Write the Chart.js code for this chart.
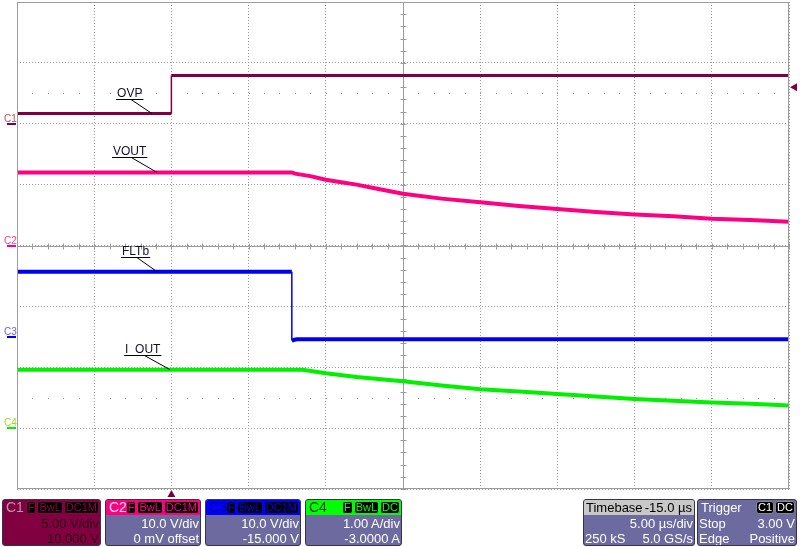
<!DOCTYPE html>
<html>
<head>
<meta charset="utf-8">
<title>OVP fault capture</title>
<script src="https://cdn.jsdelivr.net/npm/chart.js@4.4.1/dist/chart.umd.min.js"></script>
<style>
    html, body { margin: 0; padding: 0; background: #fff; overflow: hidden; }
    #wrap { position: relative; width: 800px; height: 547px; }
    #scope { position: absolute; left: 0; top: 0; }
    .box {
        position: absolute; top: 499px; height: 47px; box-sizing: border-box;
        border: 1px solid #34344e; border-radius: 3px; background: #6c6a9e;
        font-family: 'Liberation Sans', Arial, sans-serif; font-size: 13px; color: #fff;
        overflow: hidden;
    }
    .hdr { position: absolute; left: 0; right: 0; top: 0; height: 15px; }
    .name { position: absolute; left: 3px; top: 0; font-size: 14px; line-height: 15px; }
    .tags { position: absolute; right: 1px; top: 1px; display: flex; gap: 1px; }
    .tag {
        background: #000; border: 1px solid currentColor; border-radius: 3px;
        font-size: 11px; line-height: 11px; height: 11px; padding: 0 1px;
    }
    .row { position: absolute; left: 1px; right: 1px; height: 15px; line-height: 15px; }
    .r1 { top: 16px; }
    .r2 { top: 31px; }
    .l { position: absolute; left: 0; }
    .rt { position: absolute; right: 0; }
</style>
</head>
<body>
<div id="wrap">
    <canvas id="scope" width="800" height="547"></canvas>

    <div class="box" style="left:2px;width:99px;background:#800040;color:#2e0016;">
        <div class="hdr">
            <span class="name" style="color:#b897a8;">C1</span>
            <div class="tags" style="color:#900048;"><span class="tag">F</span><span class="tag">BwL</span><span class="tag">DC1M</span></div>
        </div>
        <div class="row r1"><span class="rt">5.00 V/div</span></div>
        <div class="row r2"><span class="rt">10.000 V</span></div>
    </div>

    <div class="box" style="left:105px;width:96px;">
        <div class="hdr" style="background:#ff0080;">
            <span class="name" style="color:#ffd8ea;">C2</span>
            <div class="tags" style="color:#ff0080;"><span class="tag">F</span><span class="tag">BwL</span><span class="tag">DC1M</span></div>
        </div>
        <div class="row r1"><span class="rt">10.0 V/div</span></div>
        <div class="row r2"><span class="rt">0 mV offset</span></div>
    </div>

    <div class="box" style="left:205px;width:96px;">
        <div class="hdr" style="background:#0000ff;">
            <span class="name" style="color:#000090;">C3</span>
            <div class="tags" style="color:#0000ff;"><span class="tag">F</span><span class="tag">BwL</span><span class="tag">DC1M</span></div>
        </div>
        <div class="row r1"><span class="rt">10.0 V/div</span></div>
        <div class="row r2"><span class="rt">-15.000 V</span></div>
    </div>

    <div class="box" style="left:305px;width:97px;">
        <div class="hdr" style="background:#00ff00;">
            <span class="name" style="color:#004000;">C4</span>
            <div class="tags" style="color:#00ff00;"><span class="tag">F</span><span class="tag">BwL</span><span class="tag">DC</span></div>
        </div>
        <div class="row r1"><span class="rt">1.00 A/div</span></div>
        <div class="row r2"><span class="rt">-3.0000 A</span></div>
    </div>

    <div class="box" style="left:583px;width:112px;">
        <div class="hdr" style="background:#c8c8c8;color:#000;">
            <span class="l" style="left:2px;line-height:15px;">Timebase</span>
            <span class="rt" style="right:2px;line-height:15px;">-15.0 µs</span>
        </div>
        <div class="row r1"><span class="rt">5.00 µs/div</span></div>
        <div class="row r2"><span class="l">250 kS</span><span class="rt">5.0 GS/s</span></div>
    </div>

    <div class="box" style="left:697px;width:100px;">
        <div class="hdr">
            <span class="l" style="left:3px;line-height:15px;">Trigger</span>
            <div class="tags" style="color:#fff;"><span class="tag" style="border-color:#888;">C1</span><span class="tag" style="border-color:#888;">DC</span></div>
        </div>
        <div class="row r1"><span class="l">Stop</span><span class="rt">3.00 V</span></div>
        <div class="row r2"><span class="l">Edge</span><span class="rt">Positive</span></div>
    </div>
</div>

<script>
// tijd in µs, trigger op 0
const ovpTime = [-10, 0, 0, 40];
const ovpVolts = [0.84, 0.84, 3.96, 3.96];

const voutTime = [-10, 7.8, 8, 9, 10, 11, 12, 13, 15, 17.5, 20, 22.5, 25, 27.5, 30, 32.5, 35, 37.5, 40];
const voutVolts = [12.0, 12.0, 11.8, 11.4, 10.8, 10.4, 10.0, 9.5, 8.5, 7.7, 7.1, 6.5, 6.0, 5.5, 5.1, 4.8, 4.4, 4.2, 3.9];

const fltTime = [-10, 7.8, 7.8, 8.1, 40];
const fltVolts = [10.7, 10.7, -0.6, -0.4, -0.4];

const ioutTime = [-10, 8.5, 10, 12, 15, 17.5, 20, 22.5, 25, 27.5, 30, 32.5, 35, 37.5, 40];
const ioutAmps = [0.96, 0.96, 0.90, 0.84, 0.77, 0.70, 0.64, 0.60, 0.56, 0.52, 0.48, 0.45, 0.42, 0.40, 0.37];

// kanaal instellingen (C1..C4)
const channelNames = ['C1', 'C2', 'C3', 'C4'];
const traceNames = ['OVP', 'VOUT', 'FLTb', 'I_OUT'];
const unitsPerDiv = [5, 10, 10, 1];
const offsets = [10, 0, -15, -3];
const triggerLevel = 3.0;

const traceColors = ['#800040', '#ff0080', '#0000f0', '#00f000'];
const markerColors = ['#c0504a', '#ff3c8c', '#6a5cff', '#a0dc20'];

// waarde -> divisies op het scherm
function toDiv(ch, v) {
    return (v + offsets[ch]) / unitsPerDiv[ch];
}

function points(ch, times, values) {
    return times.map((t, i) => ({ x: t, y: toDiv(ch, values[i]) }));
}

// labels met aanwijslijn (x in µs, y in div)
const traceLabels = [
    { text: 'OVP', x: -3.52, y: 2.44, tx: -1.26, ty: toDiv(0, 0.84) },
    { text: 'VOUT', x: -3.78, y: 1.49, tx: -0.93, ty: toDiv(1, 12.0) },
    { text: 'FLTb', x: -3.2, y: -0.15, tx: -0.93, ty: toDiv(2, 10.7) },
    { text: 'I_OUT', x: -3.0, y: -1.76, tx: -0.09, ty: toDiv(3, 0.96) }
];

const gridGray = '#9c9c9c';

const scopeDecor = {
    id: 'scopeDecor',
    beforeDatasetsDraw(chart) {
        const { ctx, chartArea: a, scales: { x, y } } = chart;
        const cx = Math.round(x.getPixelForValue(15)) + 0.5;
        const cy = Math.round(y.getPixelForValue(0)) + 0.5;
        ctx.save();
        ctx.strokeStyle = gridGray;
        ctx.fillStyle = gridGray;
        ctx.lineWidth = 1;
        ctx.beginPath();
        ctx.moveTo(a.left, cy); ctx.lineTo(a.right, cy);
        ctx.moveTo(cx, a.top); ctx.lineTo(cx, a.bottom);
        // kleine streepjes op het middenkruis
        for (let t = -10; t <= 40; t += 1) {
            const px = Math.round(x.getPixelForValue(t)) + 0.5;
            ctx.moveTo(px, cy - 3); ctx.lineTo(px, cy + 3);
        }
        for (let d = -4; d <= 4; d += 0.2) {
            const py = Math.round(y.getPixelForValue(d)) + 0.5;
            ctx.moveTo(cx - 3, py); ctx.lineTo(cx + 3, py);
        }
        ctx.stroke();
        // losse puntjes op +/- 2.5 div
        [2.5, -2.5].forEach(d => {
            const py = Math.round(y.getPixelForValue(d));
            for (let t = -9; t < 40; t += 1) {
                ctx.fillRect(Math.round(x.getPixelForValue(t)), py, 1, 1);
            }
        });
        ctx.restore();
    },
    afterDatasetsDraw(chart) {
        const { ctx, chartArea: a, scales: { x, y } } = chart;
        ctx.save();
        // kader
        ctx.strokeStyle = gridGray;
        ctx.lineWidth = 1;
        ctx.strokeRect(a.left + 0.5, a.top + 0.5, a.right - a.left - 1, a.bottom - a.top - 1);

        // grond markers links
        ctx.font = '10px "Liberation Sans", Arial, sans-serif';
        ctx.textBaseline = 'alphabetic';
        for (let ch = 0; ch < 4; ch++) {
            const gy = Math.round(y.getPixelForValue(toDiv(ch, 0)));
            ctx.fillStyle = traceColors[ch];
            ctx.fillRect(a.left - 10, gy - 1, 9, 2);
            ctx.fillStyle = markerColors[ch];
            ctx.fillText(channelNames[ch], a.left - 13, gy - 2);
        }

        // trigger pijltjes
        ctx.fillStyle = traceColors[0];
        const tx = x.getPixelForValue(0);
        ctx.beginPath();
        ctx.moveTo(tx, a.bottom + 1);
        ctx.lineTo(tx + 4, a.bottom + 8);
        ctx.lineTo(tx - 4, a.bottom + 8);
        ctx.closePath();
        ctx.fill();
        const ty = y.getPixelForValue(toDiv(0, triggerLevel));
        ctx.beginPath();
        ctx.moveTo(a.right + 1, ty);
        ctx.lineTo(a.right + 8, ty - 4);
        ctx.lineTo(a.right + 8, ty + 4);
        ctx.closePath();
        ctx.fill();

        // labels
        ctx.font = '12px "Liberation Sans", Arial, sans-serif';
        ctx.fillStyle = '#10102e';
        ctx.strokeStyle = '#000';
        ctx.lineWidth = 1;
        traceLabels.forEach(l => {
            const lx = x.getPixelForValue(l.x);
            const ly = y.getPixelForValue(l.y);
            const w = ctx.measureText(l.text).width;
            ctx.fillText(l.text, lx, ly);
            ctx.beginPath();
            ctx.moveTo(lx - 1, Math.round(ly) + 2.5);
            ctx.lineTo(lx + w + 1, Math.round(ly) + 2.5);
            ctx.stroke();
            ctx.beginPath();
            ctx.moveTo(lx + w * 0.55, Math.round(ly) + 2.5);
            ctx.lineTo(x.getPixelForValue(l.tx), y.getPixelForValue(l.ty));
            ctx.stroke();
        });
        ctx.restore();
    }
};

// steile flanken dunner tekenen, zoals op de scoop
function edgeWidth(w) {
    return c => (c.p0.parsed.x === c.p1.parsed.x ? 1.5 : w);
}

const ctx = document.getElementById('scope').getContext('2d');

new Chart(ctx, {
    type: 'scatter',
    data: {
        datasets: [
            { label: traceNames[0], data: points(0, ovpTime, ovpVolts), borderColor: traceColors[0], borderWidth: 3, segment: { borderWidth: edgeWidth(3) } },
            { label: traceNames[1], data: points(1, voutTime, voutVolts), borderColor: traceColors[1], borderWidth: 4 },
            { label: traceNames[2], data: points(2, fltTime, fltVolts), borderColor: traceColors[2], borderWidth: 4, segment: { borderWidth: edgeWidth(4) } },
            { label: traceNames[3], data: points(3, ioutTime, ioutAmps), borderColor: traceColors[3], borderWidth: 4 }
        ].map(ds => Object.assign(ds, { showLine: true, pointRadius: 0, tension: 0, fill: false }))
    },
    options: {
        responsive: false,
        animation: false,
        layout: { padding: { left: 17, top: 2, right: 11, bottom: 58 } },
        plugins: {
            legend: { display: false },
            tooltip: { enabled: false }
        },
        scales: {
            x: {
                type: 'linear',
                min: -10,
                max: 40,
                ticks: { display: false, stepSize: 5 },
                grid: { color: gridGray, lineWidth: 1, drawTicks: false },
                border: { display: false, dash: [1, 2] }
            },
            y: {
                type: 'linear',
                min: -4,
                max: 4,
                ticks: { display: false, stepSize: 1 },
                grid: { color: gridGray, lineWidth: 1, drawTicks: false },
                border: { display: false, dash: [1, 2] }
            }
        }
    },
    plugins: [scopeDecor]
});
</script>
</body>
</html>
